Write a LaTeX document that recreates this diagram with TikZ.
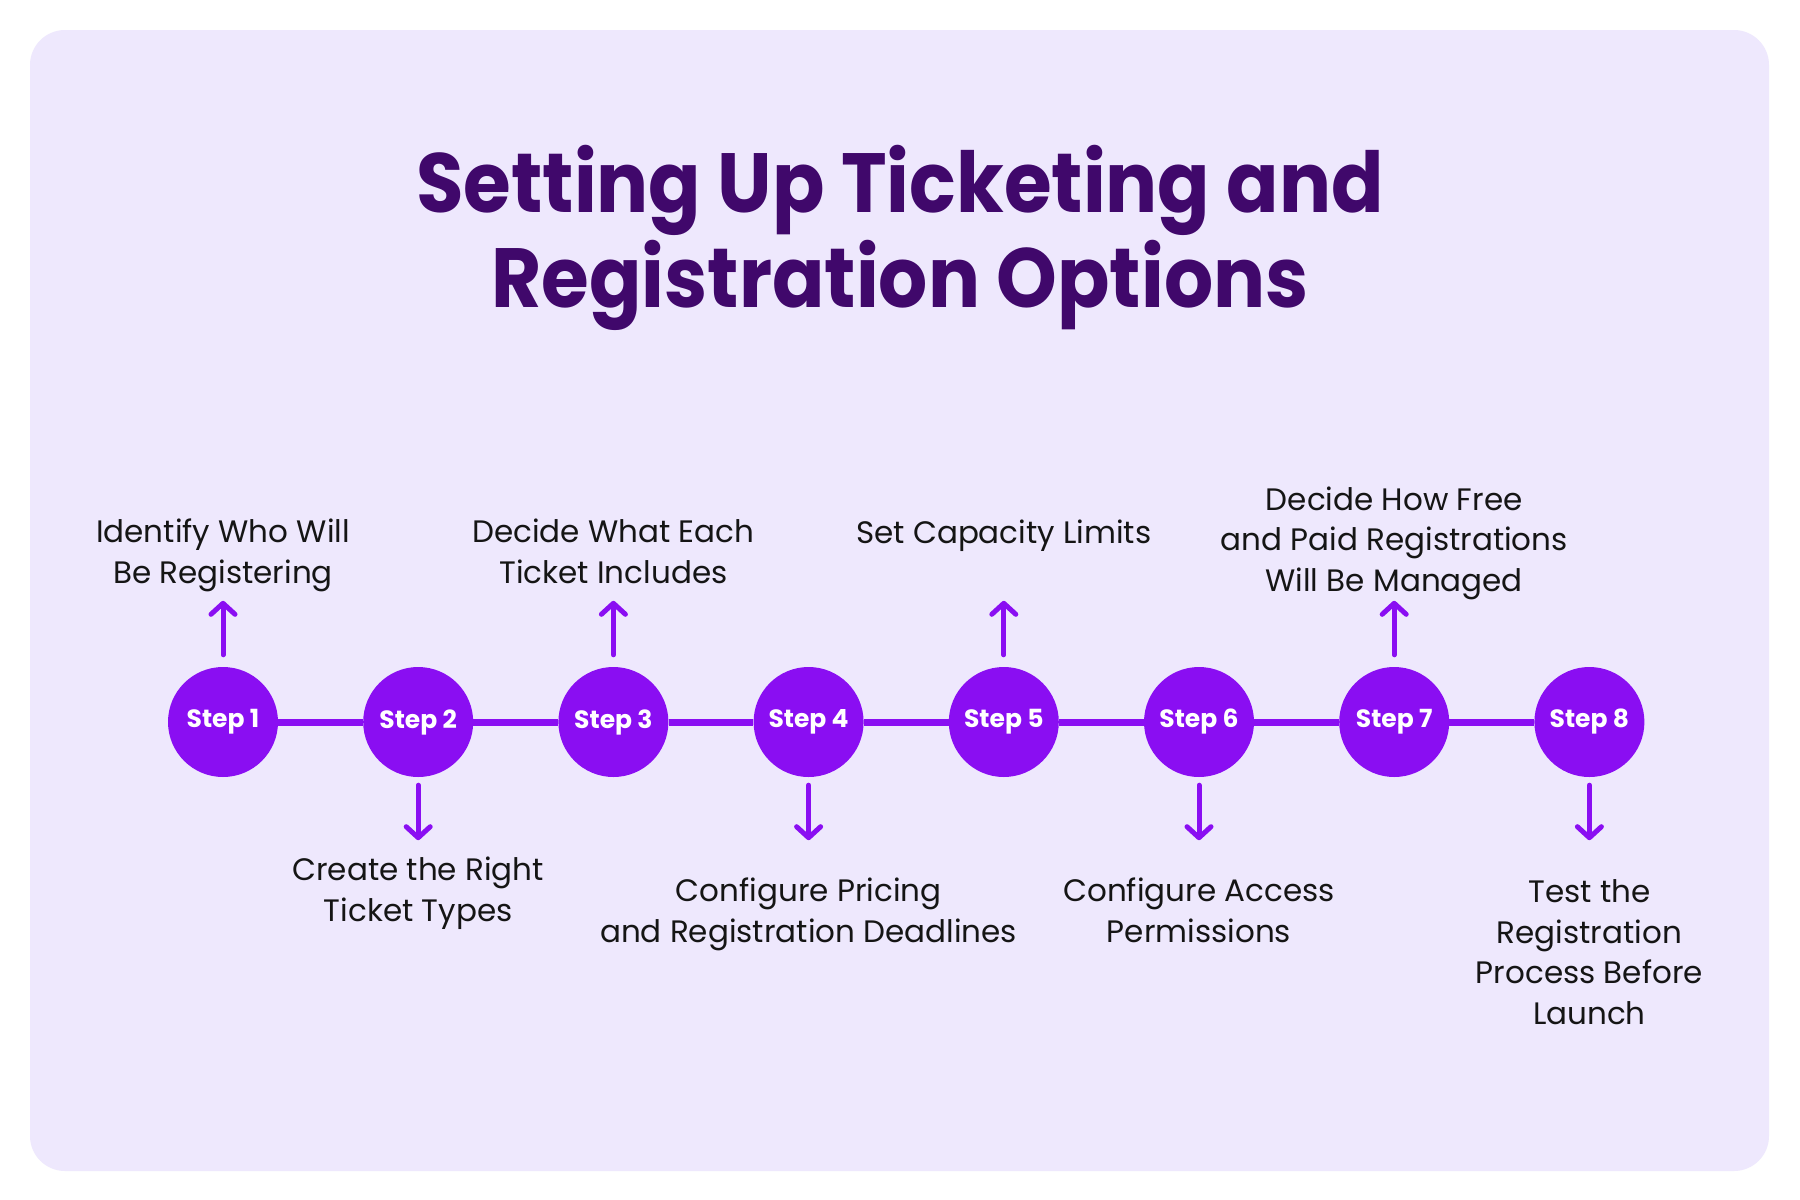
\documentclass[tikz,border=0pt]{standalone}
\usepackage{fontspec}
\setmainfont{Poppins}
\newfontfamily\titlefont{Poppins}[FakeStretch=0.92]
\usetikzlibrary{arrows.meta}
\definecolor{cardbg}{HTML}{EEE8FD}
\definecolor{stepviolet}{HTML}{8A0EF2}
\definecolor{titlepurple}{HTML}{40086B}
\definecolor{bodyink}{HTML}{151515}
\tikzset{
  titletext/.style={font={\titlefont\fontsize{84}{95}\selectfont\bfseries}, text=titlepurple, align=center, inner sep=0pt},
  stepdot/.style={circle, fill=stepviolet, minimum size=110pt, inner sep=0pt, text=white, font={\fontsize{25}{28}\selectfont\bfseries}},
  link/.style={draw=stepviolet, line width=7pt},
  arr/.style={draw=stepviolet, line width=5pt, line cap=round, -{Straight Barb[length=11pt, width=24pt, line width=5pt, round]}},
  lbl/.style={font={\fontsize{31}{40.5}\selectfont}, text=bodyink, align=center, inner sep=0pt}
}
\begin{document}
\begin{tikzpicture}[x=1pt, y=-1pt]
\useasboundingbox (0,0) rectangle (1800,1200);
\fill[white] (0,0) rectangle (1800,1200);
\fill[cardbg, rounded corners=35pt] (30,30) rectangle (1769,1171);

% base anchor of a multi-line node = baseline of its last line
\node[titletext, anchor=base] (title) at (900,307) {Setting Up Ticketing and\\Registration Options};

\foreach \i/\x in {1/223, 2/418.2, 3/613.4, 4/808.6, 5/1003.8, 6/1199, 7/1394.2, 8/1589.4}
  \node[stepdot] (s\i) at (\x,722) {Step \i};

\draw[link] (s1) -- (s2);
\draw[link] (s2) -- (s3);
\draw[link] (s3) -- (s4);
\draw[link] (s4) -- (s5);
\draw[link] (s5) -- (s6);
\draw[link] (s6) -- (s7);
\draw[link] (s7) -- (s8);

\foreach \i in {1,3,5,7}
  \draw[arr] ([yshift=12pt]s\i.north) -- ([yshift=66pt]s\i.north);
\foreach \i in {2,4,6,8}
  \draw[arr] ([yshift=-8pt]s\i.south) -- ([yshift=-63pt]s\i.south);

\node[lbl, anchor=base] (l1) at (223,583) {Identify Who Will\\Be Registering};
\node[lbl, anchor=base] (l3) at (613.4,583) {Decide What Each\\Ticket Includes};
\node[lbl, anchor=base] (l5) at (1003.8,543) {Set Capacity Limits};
\node[lbl, anchor=base] (l7) at (1394.2,591) {Decide How Free\\and Paid Registrations\\Will Be Managed};
\node[lbl, anchor=base] (l2) at (418.2,921) {Create the Right\\Ticket Types};
\node[lbl, anchor=base] (l4) at (808.6,942) {Configure Pricing\\and Registration Deadlines};
\node[lbl, anchor=base] (l6) at (1199,942) {Configure Access\\Permissions};
\node[lbl, anchor=base] (l8) at (1589.4,1024) {Test the\\Registration\\Process Before\\Launch};
\end{tikzpicture}
\end{document}
